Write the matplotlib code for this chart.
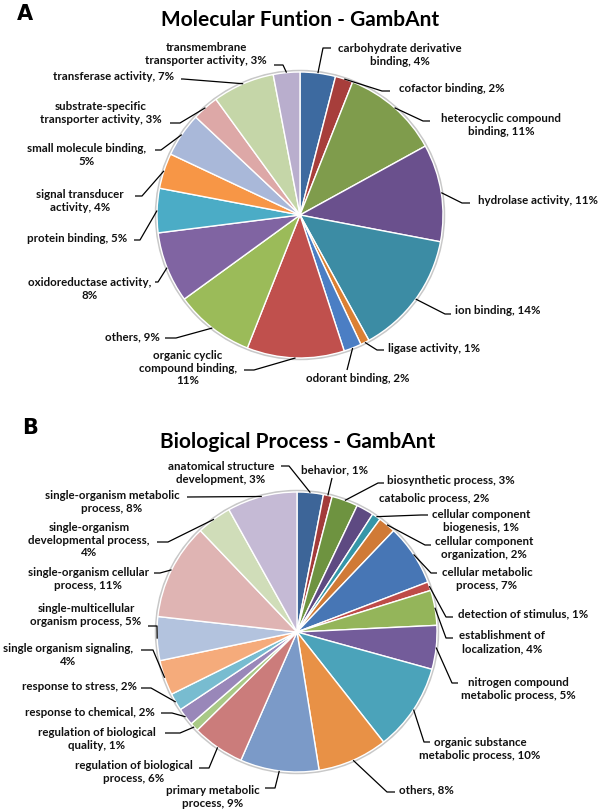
import numpy as np
import matplotlib
matplotlib.use("Agg")
import matplotlib.pyplot as plt
from matplotlib.patches import Circle

plt.rcParams['font.family'] = ['Lato', 'DejaVu Sans']
plt.rcParams['font.weight'] = 'bold'

# ---- data: molecular function (A) ----
names_a = ["carbohydrate derivative\nbinding", "cofactor binding",
           "heterocyclic compound\nbinding", "hydrolase activity", "ion binding",
           "ligase activity", "odorant binding", "organic cyclic\ncompound binding",
           "others", "oxidoreductase activity", "protein binding",
           "signal transducer\nactivity", "small molecule binding",
           "substrate-specific\ntransporter activity", "transferase activity",
           "transmembrane\ntransporter activity"]
values_a = [4, 2, 11, 11, 14, 1, 2, 11, 9, 8, 5, 4, 5, 3, 7, 3]
wrap_a = [0, 0, 0, 0, 0, 0, 0, 1, 0, 1, 0, 0, 1, 0, 0, 0]
colors_a = ["#3D6AA0", "#A73E3B", "#7F9C4C", "#6A508D", "#3C8CA4", "#DB8033",
            "#4B7EC4", "#C0504D", "#9BBB59", "#8064A2", "#4BACC6", "#F79646",
            "#A9B8D9", "#DDA8A7", "#C5D6A8", "#B9AECD"]

# ---- data: biological process (B) ----
names_b = ["anatomical structure\ndevelopment", "behavior", "biosynthetic process",
           "catabolic process", "cellular component\nbiogenesis",
           "cellular component\norganization", "cellular metabolic\nprocess",
           "detection of stimulus", "establishment of\nlocalization",
           "nitrogen compound\nmetabolic process", "organic substance\nmetabolic process",
           "others", "primary metabolic\nprocess", "regulation of biological\nprocess",
           "regulation of biological\nquality", "response to chemical",
           "response to stress", "single organism signaling",
           "single-multicellular\norganism process", "single-organism cellular\nprocess",
           "single-organism\ndevelopmental process", "single-organism metabolic\nprocess"]
values_b = [3, 1, 3, 2, 1, 2, 7, 1, 4, 5, 10, 8, 9, 6, 1, 2, 2, 4, 5, 11, 4, 8]
wrap_b = [0] * 17 + [1, 0, 0, 1, 0]
colors_b = ["#3D6598", "#A33B3A", "#6E9340", "#5E4A82", "#3596A8", "#D07A36",
            "#4776B5", "#BE4B48", "#94B55A", "#735C9A", "#4BA3BA", "#E89146",
            "#7B9AC8", "#CB7C7B", "#A9C986", "#9987B9", "#78BCD0", "#F5AB7B",
            "#B3C3DE", "#DFB4B3", "#D0DDB9", "#C5BAD5"]

# ---- label layout (image pixels): text centre, elbow, line end ----
lay_a = [(400, 55, 323, 48, 331), (452, 88, 382, 91, 390), (501, 125, 423, 121, 430),
         (538, 201, 462, 203, 470), (498, 311, 445, 314, 451), (434, 348, 377, 350, 384),
         (358, 379, 347, 370, 347), (188, 368, 254, 370, 244), (132, 337, 176, 338, 165),
         (90, 289, 158, 282, 155), (77, 239, 140, 240, 134), (80, 201, 142, 196, 135),
         (87, 155, 161, 150, 155), (101, 113, 180, 123, 170), (114, 77, 183, 79, 181),
         (206, 54, 283, 65, 274)]
lay_b = [(221, 473, 289, 466, 281), (335, 470, 332, 478, 332), (451, 481, 378, 483, 384),
         (434, 499, None, None, None), (481, 521, 421, 515, 428), (484, 548, 425, 545, 431),
         (487, 579, 431, 573, 437), (523, 614, 446, 617, 453), (502, 642, 446, 638, 453),
         (518, 689, 452, 683, 458), (480, 749, 424, 742, 430), (426, 790, 387, 792, 395),
         (213, 797, 275, 788, 265), (134, 772, 209, 768, 199), (97, 739, 180, 733, 165),
         (90, 712, 172, 713, 161), (79, 687, 151, 688, 141), (68, 655, 153, 650, 141),
         (86, 615, 157, 626, 148), (88, 579, 160, 573, 154), (89, 540, 168, 542, 157),
         (112, 502, 187, 497, 187)]

H = 811
fig = plt.figure(figsize=(6, 8.11), dpi=100)
ax = fig.add_axes([0, 0, 1, 1])


def draw_pie(values, colors, names, wrap, lay, cx, cy, r):
    ax.add_patch(Circle((cx, H - cy), r + 1.2, facecolor='none',
                        edgecolor='#c8c8c8', lw=1.5, zorder=0))
    ax.pie(values, colors=colors, startangle=90, counterclock=False,
           center=(cx, H - cy), radius=r,
           wedgeprops=dict(edgecolor='white', linewidth=1.0))
    frac = np.array(values, float) / sum(values)
    mids = (np.cumsum(frac) - frac / 2) * 2 * np.pi
    for i, (name, v) in enumerate(zip(names, values)):
        lab = name + "," + ("\n" if wrap[i] else " ") + f"{v}%"
        tx, ty, ex, ey, fx = lay[i]
        ax.text(tx, H - ty, lab, ha='center', va='center', fontsize=8.3,
                fontweight='bold', linespacing=1.2, color='#111111')
        if ex is None:
            continue
        sx = cx + r * np.sin(mids[i])
        sy = cy - r * np.cos(mids[i])
        ax.plot([sx, ex, fx], [H - sy, H - ey, H - ey], color='black', lw=0.9,
                solid_capstyle='butt')


draw_pie(values_a, colors_a, names_a, wrap_a, lay_a, 300, 215, 143)
draw_pie(values_b, colors_b, names_b, wrap_b, lay_b, 297, 632, 140)

ax.text(300, H - 20, "Molecular Funtion - GambAnt", ha='center', va='center',
        fontsize=15, fontweight='bold')
ax.text(298, H - 442, "Biological Process - GambAnt", ha='center', va='center',
        fontsize=15, fontweight='bold')
ax.text(25, H - 14, "A", ha='center', va='center', fontsize=15,
        fontweight='bold', family=['DejaVu Sans'])
ax.text(30, H - 428, "B", ha='center', va='center', fontsize=15,
        fontweight='bold', family=['DejaVu Sans'])

ax.set_xlim(0, 600)
ax.set_ylim(0, H)
ax.set_aspect('auto')
ax.axis('off')

plt.savefig("out.png", dpi=100, facecolor='white')
